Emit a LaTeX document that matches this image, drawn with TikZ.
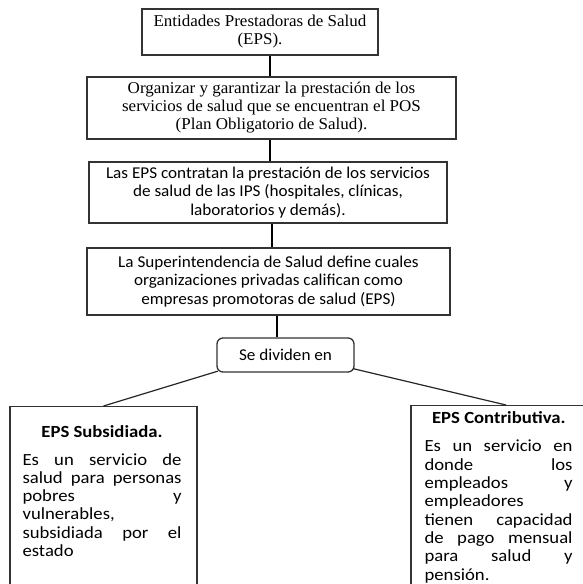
\documentclass[tikz,border=0pt]{standalone}
\usepackage{fontspec}
\setmainfont{Liberation Serif}[FakeStretch=1.03]
\newfontfamily\bodysans{Carlito}[FakeStretch=1.04]
\newfontfamily\widesans{Carlito}[FakeStretch=1.1]
\usetikzlibrary{calc}
% one justified line: the words (split by \hfill) spread over the given width
\newcommand{\jl}[2]{\leavevmode\hbox to #1{#2}}
\begin{document}
\begin{tikzpicture}[x=1pt,y=-1pt,
  box/.style={draw=black!80, line width=1.3pt, rectangle, inner sep=0pt, align=center},
  serifbox/.style={box, font=\fontsize{16.5}{18}\selectfont},
  sansbox/.style={box, font=\bodysans\fontsize{16.5}{18.3}\selectfont},
  roundbox/.style={sansbox, rounded corners=6pt},
  tallbox/.style={draw=black!80, line width=1.3pt, rectangle, inner sep=0pt},
  heading/.style={font=\widesans\bfseries\fontsize{17}{18.3}\selectfont, inner sep=0pt, anchor=base},
  bodytext/.style={font=\widesans\fontsize{17}{18.3}\selectfont, inner sep=0pt, align=left, anchor=north west},
  conn/.style={line width=2.6pt, black},
  branch/.style={line width=1.2pt, black!85},
]
\useasboundingbox (0,0) rectangle (583,584);
\fill[white] (0,0) rectangle (583,584);
\begin{scope}
\clip (0,0) rectangle (583,584);

% main chain of boxes
\node[serifbox, minimum width=236pt, minimum height=46pt] (b1) at (260,32)
  {Entidades Prestadoras de Salud\\(EPS).};
\node[serifbox, minimum width=369pt, minimum height=62pt] (b2) at (271.5,108)
  {Organizar y garantizar la prestación de los\\servicios de salud que se encuentran el POS\\(Plan Obligatorio de Salud).};
\node[sansbox, minimum width=358pt, minimum height=61pt] (b3) at (268,192.5)
  {Las EPS contratan la prestación de los servicios\\de salud de las IPS (hospitales, clínicas,\\laboratorios y demás).};
\node[sansbox, minimum width=363pt, minimum height=67pt] (b4) at (268.5,281.5)
  {La Superintendencia de Salud define cuales\\organizaciones privadas califican como\\empresas promotoras de salud (EPS)};
\node[roundbox, minimum width=137pt, minimum height=34pt] (sd) at (285.5,355)
  {Se dividen en};

% the two branches, running past the lower edge
\node[tallbox, minimum width=187pt, minimum height=220pt, anchor=north] (L) at (103.5,406) {};
\node[tallbox, minimum width=190pt, minimum height=220pt, anchor=north] (R) at (506,405) {};

\node[heading] (Lh) at ($(L.north)+(-1.5,31)$) {EPS Subsidiada.};
\node[bodytext, text width=159pt] (Lb) at ($(L.north west)+(13,47)$)
  {\jl{159pt}{Es\hfill un\hfill servicio\hfill de}\\
   \jl{159pt}{salud\hfill para\hfill personas}\\
   \jl{159pt}{pobres\hfill y}\\
   vulnerables,\\
   \jl{159pt}{subsidiada\hfill por\hfill el}\\
   estado};

\node[heading] (Rh) at ($(R.north west)+(88.5,18)$) {EPS Contributiva.};
\node[bodytext, text width=148pt] (Rb) at ($(R.north west)+(14,35)$)
  {\jl{148pt}{Es\hfill un\hfill servicio\hfill en}\\
   \jl{148pt}{donde\hfill los}\\
   \jl{148pt}{empleados\hfill y}\\
   empleadores\\
   \jl{148pt}{tienen\hfill capacidad}\\
   \jl{148pt}{de\hfill pago\hfill mensual}\\
   \jl{148pt}{para\hfill salud\hfill y}\\
   pensión.};

% connectors
\coordinate (x1) at (270,0);
\coordinate (x3) at (272,0);
\coordinate (x4) at (277,0);
\draw[conn] (b1.south -| x1) -- (b2.north -| x1);
\draw[conn] (b2.south -| x1) -- (b3.north -| x1);
\draw[conn] (b3.south -| x3) -- (b4.north -| x3);
\draw[conn] (b4.south -| x4) -- (sd.north -| x4);
\draw[branch] ([shift={(1.5,-1.5)}]sd.south west) -- (L.north);
\draw[branch] ([shift={(-1.5,-4)}]sd.south east) -- (R.north);
\end{scope}
\end{tikzpicture}
\end{document}
